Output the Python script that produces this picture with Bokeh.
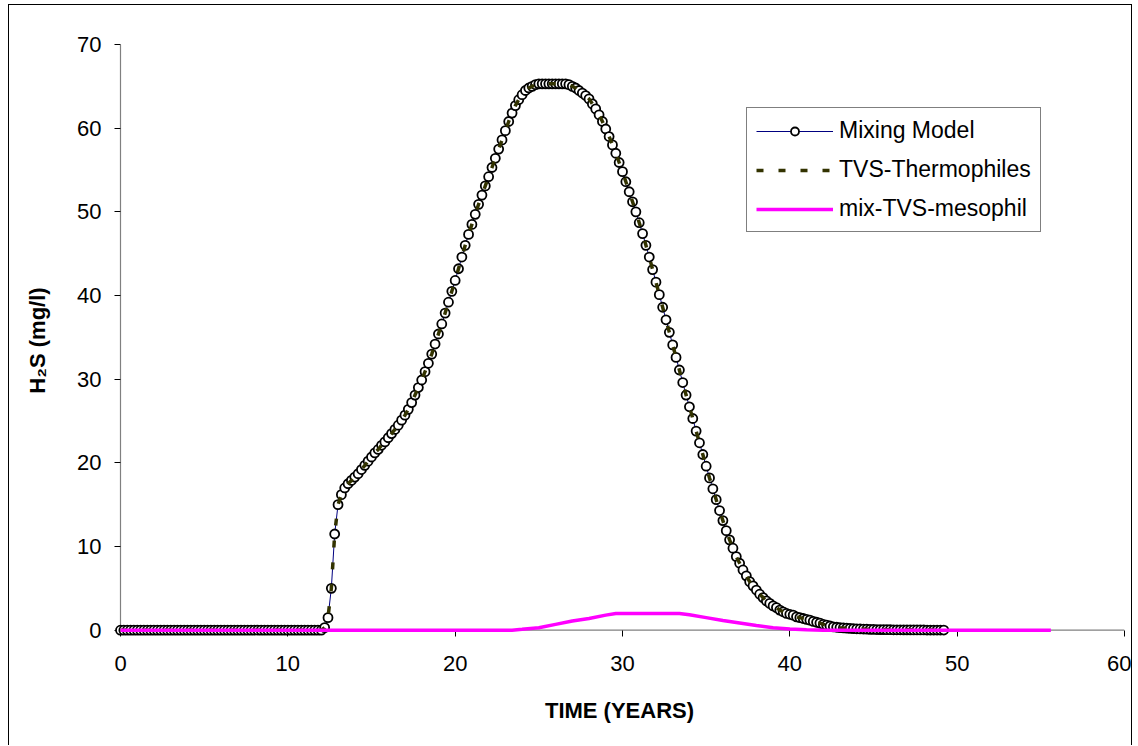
from bokeh.plotting import figure
from bokeh.models import Range1d, FixedTicker, Legend, LegendItem
from bokeh.embed import file_html
from bokeh.resources import INLINE

# ---------------- data ----------------
# time in years, one model output every 0.2 year
time_years = [
    0.0, 0.2, 0.4, 0.6, 0.8, 1.0, 1.2, 1.4, 1.6, 1.8,
    2.0, 2.2, 2.4, 2.6, 2.8, 3.0, 3.2, 3.4, 3.6, 3.8,
    4.0, 4.2, 4.4, 4.6, 4.8, 5.0, 5.2, 5.4, 5.6, 5.8,
    6.0, 6.2, 6.4, 6.6, 6.8, 7.0, 7.2, 7.4, 7.6, 7.8,
    8.0, 8.2, 8.4, 8.6, 8.8, 9.0, 9.2, 9.4, 9.6, 9.8,
    10.0, 10.2, 10.4, 10.6, 10.8, 11.0, 11.2, 11.4, 11.6, 11.8,
    12.0, 12.2, 12.4, 12.6, 12.8, 13.0, 13.2, 13.4, 13.6, 13.8,
    14.0, 14.2, 14.4, 14.6, 14.8, 15.0, 15.2, 15.4, 15.6, 15.8,
    16.0, 16.2, 16.4, 16.6, 16.8, 17.0, 17.2, 17.4, 17.6, 17.8,
    18.0, 18.2, 18.4, 18.6, 18.8, 19.0, 19.2, 19.4, 19.6, 19.8,
    20.0, 20.2, 20.4, 20.6, 20.8, 21.0, 21.2, 21.4, 21.6, 21.8,
    22.0, 22.2, 22.4, 22.6, 22.8, 23.0, 23.2, 23.4, 23.6, 23.8,
    24.0, 24.2, 24.4, 24.6, 24.8, 25.0, 25.2, 25.4, 25.6, 25.8,
    26.0, 26.2, 26.4, 26.6, 26.8, 27.0, 27.2, 27.4, 27.6, 27.8,
    28.0, 28.2, 28.4, 28.6, 28.8, 29.0, 29.2, 29.4, 29.6, 29.8,
    30.0, 30.2, 30.4, 30.6, 30.8, 31.0, 31.2, 31.4, 31.6, 31.8,
    32.0, 32.2, 32.4, 32.6, 32.8, 33.0, 33.2, 33.4, 33.6, 33.8,
    34.0, 34.2, 34.4, 34.6, 34.8, 35.0, 35.2, 35.4, 35.6, 35.8,
    36.0, 36.2, 36.4, 36.6, 36.8, 37.0, 37.2, 37.4, 37.6, 37.8,
    38.0, 38.2, 38.4, 38.6, 38.8, 39.0, 39.2, 39.4, 39.6, 39.8,
    40.0, 40.2, 40.4, 40.6, 40.8, 41.0, 41.2, 41.4, 41.6, 41.8,
    42.0, 42.2, 42.4, 42.6, 42.8, 43.0, 43.2, 43.4, 43.6, 43.8,
    44.0, 44.2, 44.4, 44.6, 44.8, 45.0, 45.2, 45.4, 45.6, 45.8,
    46.0, 46.2, 46.4, 46.6, 46.8, 47.0, 47.2, 47.4, 47.6, 47.8,
    48.0, 48.2, 48.4, 48.6, 48.8, 49.0, 49.2,
]

# H2S (mg/l) of the mixing model, same order as time_years
mixing_model = [
    0, 0, 0, 0, 0, 0, 0, 0, 0, 0,
    0, 0, 0, 0, 0, 0, 0, 0, 0, 0,
    0, 0, 0, 0, 0, 0, 0, 0, 0, 0,
    0, 0, 0, 0, 0, 0, 0, 0, 0, 0,
    0, 0, 0, 0, 0, 0, 0, 0, 0, 0,
    0, 0, 0, 0, 0, 0, 0, 0, 0, 0,
    0, 0.3, 1.5, 5.0, 11.5, 15.0, 16.2, 17.0, 17.5, 17.9,
    18.3, 18.7, 19.2, 19.7, 20.2, 20.7, 21.2, 21.6, 22.1, 22.5,
    23.0, 23.5, 24.0, 24.5, 25.1, 25.7, 26.4, 27.2, 28.1, 29.0,
    29.9, 30.9, 31.9, 33.0, 34.2, 35.4, 36.6, 37.9, 39.2, 40.5,
    41.8, 43.2, 44.6, 46.0, 47.3, 48.5, 49.7, 50.9, 52.0, 53.1,
    54.2, 55.3, 56.4, 57.5, 58.6, 59.7, 60.8, 61.8, 62.7, 63.4,
    64.0, 64.5, 64.8, 65.0, 65.2, 65.3, 65.3, 65.3, 65.3, 65.3,
    65.3, 65.3, 65.3, 65.3, 65.2, 65.0, 64.8, 64.5, 64.2, 63.9,
    63.5, 62.9, 62.3, 61.6, 60.8, 59.9, 59.0, 58.0, 57.0, 55.9,
    54.8, 53.6, 52.4, 51.2, 50.0, 48.7, 47.4, 46.0, 44.6, 43.1,
    41.6, 40.1, 38.6, 37.1, 35.6, 34.1, 32.6, 31.1, 29.6, 28.1,
    26.7, 25.3, 23.8, 22.4, 21.0, 19.6, 18.2, 16.9, 15.6, 14.3,
    13.1, 11.9, 10.8, 9.8, 8.8, 8.0, 7.2, 6.5, 5.8, 5.3,
    4.8, 4.3, 3.9, 3.5, 3.2, 2.9, 2.7, 2.4, 2.2, 2.0,
    1.9, 1.8, 1.6, 1.5, 1.4, 1.3, 1.2, 1.05, 0.95, 0.85,
    0.7, 0.6, 0.5, 0.4, 0.35, 0.3, 0.27, 0.24, 0.21, 0.19,
    0.17, 0.15, 0.14, 0.12, 0.1, 0.09, 0.08, 0.07, 0.07, 0.06,
    0.06, 0.05, 0.05, 0.05, 0.04, 0.04, 0.04, 0.03, 0.03, 0.03,
    0.03, 0.02, 0.02, 0.02, 0.02, 0.02, 0.02,
]

# TVS-Thermophiles: coincides with the mixing model at the picture's resolution
tvs_thermophiles = list(mixing_model)

# mix-TVS-mesophil (breakpoints of the pink line)
meso_time = [0.0, 23.4, 24.0, 25.0, 26.0, 27.0, 28.0, 29.0, 29.6, 33.4,
             34.0, 35.0, 36.0, 37.0, 38.0, 39.0, 40.0, 41.0, 42.0, 55.6]
meso_h2s = [0.0, 0.0, 0.1, 0.3, 0.7, 1.1, 1.4, 1.8, 2.0, 2.0,
            1.85, 1.5, 1.15, 0.85, 0.55, 0.3, 0.15, 0.05, 0.0, 0.0]

x_ticks = [0, 10, 20, 30, 40, 50, 60]
y_ticks = [0, 10, 20, 30, 40, 50, 60, 70]

FONT = "Liberation Sans"
AXIS_GRAY = "#808080"

# ---------------- figure ----------------
p = figure(width=1124, height=741, output_backend="svg", toolbar_location=None,
           x_range=Range1d(-0.3586, 60), y_range=Range1d(-0.753, 70),
           min_border_left=105, min_border_right=9,
           min_border_top=39, min_border_bottom=110)
p.outline_line_color = None
p.xgrid.visible = False
p.ygrid.visible = False
p.background_fill_color = "white"
p.border_fill_color = "white"
# outer chart border (the reference's chart-area frame)
p.margin = (4, 0, 0, 8)
p.styles = {"border-top": "1px solid black", "border-left": "1px solid black",
            "border-right": "1px solid black"}

# axis lines through the data origin (value axis and category axis of the chart)
p.line([x_ticks[0], x_ticks[-1]], [y_ticks[0], y_ticks[0]], line_color=AXIS_GRAY, line_width=1.2)
p.line([x_ticks[0], x_ticks[0]], [y_ticks[0], y_ticks[-1]], line_color=AXIS_GRAY, line_width=1.2)

r_line = p.line(time_years, mixing_model, line_color="#000080", line_width=1)
r_sc = p.scatter(time_years, mixing_model, marker="circle", size=9,
                 line_color="black", line_width=1.8, fill_color="white")
r_tvs = p.line(time_years, tvs_thermophiles, line_color="#333300", line_width=3.5,
               line_dash="7 15")
r_meso = p.line(meso_time, meso_h2s, line_color="#FF00FF", line_width=3.5)
for r in (r_line, r_sc, r_tvs, r_meso):
    r.level = "annotation"

for ax, ticks in ((p.xaxis[0], x_ticks), (p.yaxis[0], y_ticks)):
    ax.ticker = FixedTicker(ticks=ticks)
    ax.axis_line_color = None
    ax.major_tick_line_color = "black"
    ax.major_tick_out = 0
    ax.major_tick_in = 6
    ax.minor_tick_line_color = None
    ax.major_label_text_font = FONT
    ax.major_label_text_font_size = "22px"
    ax.major_label_text_color = "black"
    ax.axis_label_text_font = FONT
    ax.axis_label_text_font_size = "22px"
    ax.axis_label_text_font_style = "bold"
    ax.axis_label_text_color = "black"

p.xaxis[0].axis_label = "TIME (YEARS)"
p.xaxis[0].major_label_standoff = 19
p.xaxis[0].axis_label_standoff = 24
p.yaxis[0].axis_label = "H\u2082S (mg/l)"
p.yaxis[0].major_label_standoff = 13
p.yaxis[0].axis_label_standoff = 24

legend = Legend(items=[
    LegendItem(label="Mixing Model", renderers=[r_line, r_sc]),
    LegendItem(label="TVS-Thermophiles", renderers=[r_tvs]),
    LegendItem(label="mix-TVS-mesophil", renderers=[r_meso]),
], location=(632, 404))
legend.label_text_font = FONT
legend.label_text_font_size = "23px"
legend.label_text_color = "black"
legend.glyph_width = 77
legend.glyph_height = 20
legend.label_standoff = 6
legend.padding = 9
legend.spacing = 12
legend.margin = 0
legend.border_line_color = "black"
legend.border_line_width = 1
legend.background_fill_color = "white"
legend.background_fill_alpha = 1
p.add_layout(legend)

open("out.html", "w").write(file_html(p, INLINE))
